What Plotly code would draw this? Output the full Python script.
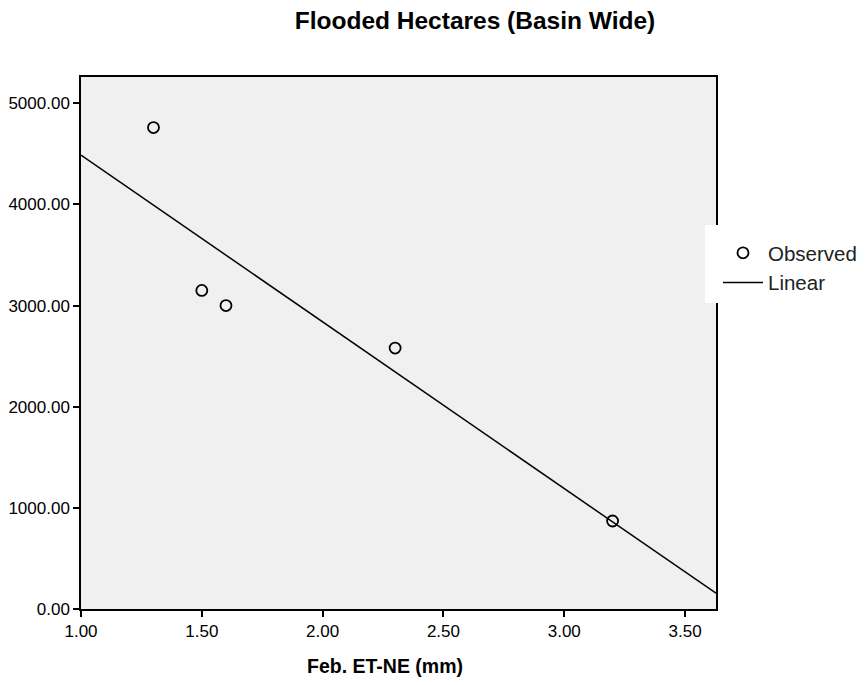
import numpy as np
import plotly.graph_objects as go

feb_et = [1.3, 1.5, 1.6, 2.3, 3.2]
flooded = [4760, 3150, 3000, 2580, 870]
x_ticks = [1.0, 1.5, 2.0, 2.5, 3.0, 3.5]
y_ticks = [0, 1000, 2000, 3000, 4000, 5000]
x_range = [1.0, 3.628]
y_range = [0, 5260]

slope, intercept = np.polyfit(feb_et, flooded, 1)
line_x = np.array(x_range)
line_y = intercept + slope * line_x

font = "Liberation Sans, Arial, sans-serif"
L, R, T, B = 81, 151, 77, 76
W, H = 867, 685
pw, ph = W - L - R, H - T - B

def px_x(p):
    return (p - L) / pw

def px_y(p):
    return (H - B - p) / ph

fig = go.Figure()
fig.add_trace(go.Scatter(x=feb_et, y=flooded, mode="markers", name="Observed",
                         marker=dict(symbol="circle-open", size=11, color="black",
                                     line=dict(width=1.8, color="black"))))
fig.add_trace(go.Scatter(x=line_x, y=line_y, mode="lines", name="Linear",
                         line=dict(color="black", width=1.5)))

fig.add_shape(type="rect", xref="paper", yref="paper", layer="above",
              x0=px_x(705), x1=px_x(870), y0=px_y(303), y1=px_y(225),
              fillcolor="white", line=dict(width=0))

fig.add_annotation(text="<b>Feb. ET-NE (mm)</b>", xref="paper", yref="paper",
                   x=px_x(385), y=px_y(666), xanchor="center", yanchor="middle",
                   showarrow=False, font=dict(size=19.5, family=font, color="black"))

fig.update_layout(
    width=W, height=H,
    margin=dict(l=L, r=R, t=T, b=B, autoexpand=False),
    paper_bgcolor="white", plot_bgcolor="#f0f0f0",
    font=dict(family=font, color="black", size=14),
    title=dict(text="<b>Flooded Hectares (Basin Wide)</b>", x=475 / W,
               xanchor="center", y=(H - 20) / H, yanchor="middle",
               font=dict(size=24.5, family=font)),
    showlegend=True,
    legend=dict(x=px_x(718), y=px_y(233), xanchor="left", yanchor="top",
                bgcolor="rgba(0,0,0,0)", font=dict(size=20.5, family=font, color="#222"),
                tracegroupgap=0, itemwidth=40),
    xaxis=dict(range=x_range, tickvals=x_ticks,
               ticktext=[f"{v:.2f}" for v in x_ticks],
               showgrid=False, zeroline=False, showline=True, linecolor="black",
               linewidth=1.5, mirror=True, ticks="outside", ticklen=6, tickwidth=1.5,
               tickcolor="black", tickfont=dict(size=17)),
    yaxis=dict(range=y_range, tickvals=y_ticks,
               ticktext=[f"{v:.2f}" for v in y_ticks],
               showgrid=False, zeroline=False, showline=True, linecolor="black",
               linewidth=1.5, mirror=True, ticks="outside", ticklen=6, tickwidth=1.5,
               tickcolor="black", tickfont=dict(size=17)),
)
fig.write_html("out.html")
